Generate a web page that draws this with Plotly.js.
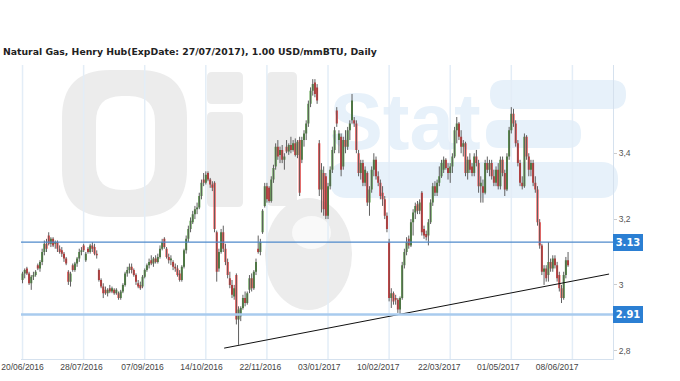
<!DOCTYPE html>
<html><head><meta charset="utf-8">
<script src="https://cdn.plot.ly/plotly-3.0.1.min.js"></script>
<style>html,body{margin:0;padding:0;background:#fff;} #chart{width:680px;height:381px;}</style>
</head><body><div id="chart"></div>
<script>
const titleText = 'Natural Gas, Henry Hub(ExpDate: 27/07/2017), 1.00 USD/mmBTU, Daily';
const startDate = '2016-06-20';
const holidays = ['2016-07-04','2016-09-05','2016-11-24','2016-12-26','2017-01-02','2017-01-16','2017-04-14','2017-05-29'];
const tickLabels = ['20/06/2016','28/07/2016','07/09/2016','14/10/2016','22/11/2016','03/01/2017','10/02/2017','22/03/2017','01/05/2017','08/06/2017'];
const priceTicks = [2.8, 3.0, 3.2, 3.4];
const levels = [3.13, 2.91];
const trendIdx = [92.4, 268.8];
const trendVal = [2.808, 3.033];
const watermarkText = 'Stat';

const openP = [3.015,3.035,3.050,3.035,3.005,3.025,3.030,3.060,3.050,3.070,3.100,3.125,3.150,3.125,3.140,3.125,3.130,3.110,3.105,3.095,
3.080,3.040,3.010,3.060,3.045,3.065,3.080,3.100,3.120,3.075,3.110,3.100,3.120,3.115,3.095,3.045,3.015,2.995,2.985,2.975,
2.990,2.980,2.985,2.975,2.975,2.960,2.980,3.000,3.035,3.045,3.055,3.045,3.030,3.005,3.000,2.995,3.025,3.045,3.060,3.075,
3.065,3.080,3.070,3.085,3.110,3.140,3.110,3.085,3.075,3.070,3.055,3.050,3.035,3.015,3.055,3.105,3.140,3.170,3.190,3.215,
3.230,3.235,3.270,3.320,3.310,3.340,3.320,3.305,3.310,3.160,3.050,3.100,3.160,3.110,3.070,3.020,3.000,2.965,3.030,2.895,
2.905,2.930,2.960,2.945,2.985,3.020,2.990,3.040,3.110,3.100,3.160,3.240,3.300,3.295,3.255,3.320,3.360,3.420,3.395,3.410,
3.380,3.420,3.405,3.425,3.410,3.430,3.395,3.440,3.380,3.440,3.460,3.490,3.550,3.590,3.615,3.600,3.430,3.290,3.340,3.330,
3.210,3.300,3.350,3.410,3.530,3.440,3.450,3.360,3.440,3.420,3.470,3.500,3.500,3.490,3.400,3.340,3.370,3.310,3.340,3.250,
3.290,3.350,3.380,3.330,3.310,3.280,3.260,3.210,3.130,2.960,2.975,2.960,2.955,2.925,2.960,3.060,3.100,3.140,3.120,3.190,
3.220,3.245,3.225,3.280,3.170,3.155,3.150,3.190,3.250,3.300,3.280,3.310,3.330,3.350,3.380,3.355,3.340,3.360,3.390,3.470,
3.490,3.450,3.420,3.430,3.340,3.380,3.360,3.340,3.390,3.370,3.300,3.300,3.280,3.370,3.350,3.370,3.330,3.310,3.350,3.300,
3.380,3.340,3.290,3.390,3.470,3.520,3.490,3.430,3.370,3.310,3.300,3.450,3.390,3.350,3.370,3.310,3.290,3.190,3.120,3.040,
3.050,3.030,3.070,3.050,3.080,3.060,3.030,2.990,2.960,3.030,3.075];
const highP = [3.040,3.050,3.055,3.040,3.030,3.040,3.045,3.065,3.075,3.110,3.135,3.140,3.160,3.145,3.145,3.135,3.135,3.120,3.115,3.100,
3.085,3.045,3.040,3.065,3.070,3.085,3.110,3.115,3.125,3.100,3.115,3.125,3.130,3.125,3.105,3.050,3.020,3.005,2.995,2.990,
3.000,2.995,2.990,2.990,2.980,2.985,3.005,3.040,3.055,3.065,3.065,3.050,3.035,3.015,3.010,3.030,3.050,3.065,3.080,3.090,
3.085,3.090,3.095,3.120,3.140,3.145,3.115,3.095,3.090,3.075,3.065,3.060,3.045,3.060,3.110,3.150,3.180,3.205,3.225,3.240,
3.250,3.280,3.320,3.340,3.345,3.345,3.325,3.315,3.315,3.165,3.110,3.170,3.180,3.125,3.080,3.040,3.015,3.000,3.035,2.935,
2.935,2.970,2.980,2.980,3.030,3.035,3.045,3.080,3.150,3.140,3.230,3.310,3.310,3.300,3.330,3.365,3.430,3.440,3.420,3.425,
3.400,3.440,3.430,3.450,3.440,3.445,3.440,3.450,3.450,3.470,3.500,3.560,3.600,3.625,3.625,3.610,3.440,3.370,3.360,3.340,
3.310,3.360,3.420,3.480,3.540,3.470,3.460,3.450,3.470,3.480,3.500,3.580,3.510,3.500,3.410,3.380,3.380,3.360,3.345,3.300,
3.360,3.400,3.390,3.345,3.320,3.300,3.270,3.220,3.140,2.990,2.980,2.970,2.960,2.965,3.070,3.110,3.145,3.150,3.200,3.230,
3.250,3.255,3.260,3.285,3.180,3.165,3.200,3.260,3.310,3.315,3.320,3.360,3.380,3.390,3.385,3.370,3.370,3.400,3.480,3.510,
3.495,3.470,3.440,3.435,3.390,3.400,3.370,3.400,3.410,3.380,3.330,3.320,3.380,3.390,3.380,3.380,3.350,3.360,3.370,3.390,
3.390,3.350,3.400,3.480,3.540,3.535,3.500,3.440,3.380,3.330,3.460,3.455,3.400,3.380,3.380,3.330,3.300,3.200,3.125,3.060,
3.060,3.130,3.080,3.090,3.090,3.070,3.040,3.000,3.040,3.085,3.100];
const lowP = [3.005,3.020,3.030,3.000,2.985,3.015,3.025,3.045,3.040,3.060,3.090,3.100,3.120,3.115,3.115,3.110,3.100,3.095,3.085,3.070,
3.060,3.000,2.995,3.040,3.040,3.055,3.070,3.090,3.100,3.070,3.095,3.095,3.100,3.090,3.080,3.010,2.990,2.960,2.970,2.965,
2.975,2.975,2.970,2.970,2.955,2.955,2.975,2.995,3.025,3.035,3.035,3.025,3.000,2.990,2.985,2.990,3.020,3.040,3.050,3.060,
3.055,3.065,3.065,3.080,3.105,3.110,3.080,3.065,3.060,3.045,3.040,3.025,3.010,3.010,3.050,3.095,3.130,3.160,3.185,3.200,
3.215,3.230,3.260,3.300,3.305,3.315,3.295,3.285,3.160,3.010,3.040,3.095,3.100,3.060,3.020,2.990,2.960,2.955,2.880,2.818,
2.890,2.925,2.935,2.940,2.975,2.980,2.985,3.030,3.095,3.090,3.155,3.235,3.250,3.250,3.250,3.310,3.350,3.380,3.370,3.370,
3.350,3.400,3.395,3.400,3.405,3.390,3.385,3.270,3.370,3.420,3.440,3.480,3.540,3.575,3.570,3.550,3.270,3.220,3.210,3.200,
3.200,3.290,3.340,3.400,3.480,3.400,3.330,3.350,3.400,3.410,3.440,3.490,3.480,3.400,3.330,3.320,3.300,3.300,3.240,3.210,
3.280,3.330,3.320,3.300,3.260,3.240,3.200,3.160,2.950,2.930,2.940,2.940,2.915,2.910,2.955,3.050,3.090,3.110,3.115,3.150,
3.200,3.215,3.215,3.150,3.140,3.135,3.120,3.185,3.240,3.270,3.270,3.300,3.325,3.340,3.350,3.320,3.310,3.340,3.385,3.430,
3.440,3.400,3.390,3.330,3.320,3.340,3.330,3.330,3.360,3.280,3.250,3.250,3.275,3.340,3.330,3.320,3.300,3.300,3.290,3.290,
3.330,3.270,3.285,3.380,3.460,3.480,3.420,3.360,3.300,3.290,3.295,3.380,3.330,3.330,3.300,3.280,3.180,3.110,3.030,3.000,
3.010,3.010,3.040,3.040,3.050,3.010,2.980,2.945,2.955,3.020,3.055];
const closeP = [3.035,3.045,3.035,3.005,3.025,3.030,3.040,3.050,3.070,3.100,3.125,3.110,3.125,3.140,3.120,3.130,3.110,3.100,3.095,3.080,
3.065,3.010,3.035,3.045,3.065,3.080,3.100,3.105,3.105,3.095,3.100,3.120,3.110,3.095,3.090,3.015,2.995,2.975,2.975,2.985,
2.980,2.990,2.975,2.985,2.960,2.980,3.000,3.035,3.045,3.055,3.045,3.030,3.010,2.995,2.990,3.025,3.045,3.060,3.070,3.065,
3.080,3.070,3.085,3.110,3.130,3.115,3.085,3.075,3.080,3.055,3.050,3.030,3.015,3.055,3.105,3.140,3.170,3.195,3.215,3.230,
3.235,3.270,3.310,3.310,3.335,3.320,3.305,3.295,3.170,3.040,3.100,3.160,3.110,3.070,3.030,3.000,2.970,2.990,2.895,2.925,
2.930,2.960,2.945,2.975,3.020,2.990,3.040,3.070,3.100,3.130,3.225,3.300,3.260,3.255,3.320,3.355,3.420,3.390,3.410,3.380,
3.390,3.405,3.425,3.410,3.430,3.395,3.435,3.280,3.440,3.460,3.490,3.550,3.590,3.610,3.580,3.560,3.290,3.350,3.230,3.210,
3.300,3.350,3.410,3.470,3.490,3.460,3.350,3.440,3.420,3.470,3.490,3.560,3.490,3.410,3.340,3.370,3.310,3.350,3.250,3.290,
3.350,3.380,3.330,3.310,3.270,3.260,3.210,3.170,2.960,2.975,2.950,2.955,2.925,2.960,3.060,3.100,3.130,3.120,3.190,3.220,
3.240,3.225,3.250,3.160,3.150,3.145,3.190,3.250,3.300,3.280,3.310,3.330,3.370,3.380,3.355,3.340,3.360,3.390,3.470,3.490,
3.450,3.420,3.430,3.340,3.380,3.350,3.340,3.390,3.370,3.300,3.310,3.280,3.370,3.350,3.370,3.330,3.310,3.350,3.300,3.380,
3.340,3.290,3.390,3.470,3.520,3.490,3.430,3.370,3.310,3.300,3.450,3.390,3.350,3.370,3.310,3.290,3.190,3.120,3.040,3.050,
3.020,3.070,3.050,3.080,3.060,3.020,2.990,2.960,3.030,3.075,3.060];

// trading-day calendar (weekends and exchange holidays skipped)
const dates = [];
(function(){
  const d = new Date(startDate + 'T00:00:00Z');
  while (dates.length < closeP.length) {
    const wd = d.getUTCDay();
    const iso = d.toISOString().slice(0, 10);
    if (wd !== 0 && wd !== 6 && holidays.indexOf(iso) < 0) {
      dates.push(iso.slice(8, 10) + '/' + iso.slice(5, 7) + '/' + iso.slice(0, 4));
    }
    d.setUTCDate(d.getUTCDate() + 1);
  }
})();
const idx = dates.map((_, i) => i);
const tickVals = tickLabels.map(l => dates.indexOf(l));

const GREEN = '#3b8c27', RED = '#f51c1c', WICK = '#606060';

const traces = [
  { type: 'ohlc', x: idx, open: openP, high: highP, low: lowP, close: closeP, text: dates,
    tickwidth: 0, increasing: { line: { color: WICK, width: 1 } }, decreasing: { line: { color: WICK, width: 1 } },
    hoverinfo: 'skip', showlegend: false },
  { type: 'candlestick', x: idx, open: openP, high: highP, low: lowP, close: closeP, text: dates,
    whiskerwidth: 0,
    increasing: { line: { color: GREEN, width: 0 }, fillcolor: GREEN },
    decreasing: { line: { color: RED, width: 0 }, fillcolor: RED },
    showlegend: false },
  { type: 'scatter', mode: 'lines', x: trendIdx, y: trendVal, line: { color: '#111', width: 1 },
    hoverinfo: 'skip', showlegend: false, cliponaxis: false }
];

// pixel -> paper helpers for decoration (plot area 21..613 x 65..359)
const L = 21, R = 613, T = 65, B = 359;
const px = v => (v - L) / (R - L);
const py = v => (B - v) / (B - T);
const pt = (x, y) => px(x).toFixed(5) + ',' + py(y).toFixed(5);
function rrect(x0, y0, x1, y1, r) {
  return 'M' + pt(x0 + r, y0) + ' L' + pt(x1 - r, y0) + ' Q' + pt(x1, y0) + ' ' + pt(x1, y0 + r) +
    ' L' + pt(x1, y1 - r) + ' Q' + pt(x1, y1) + ' ' + pt(x1 - r, y1) +
    ' L' + pt(x0 + r, y1) + ' Q' + pt(x0, y1) + ' ' + pt(x0, y1 - r) +
    ' L' + pt(x0, y0 + r) + ' Q' + pt(x0, y0) + ' ' + pt(x0 + r, y0) + ' Z';
}

const shapes = [];
const WM_GRAY = '#ececec', WM_BLUE = '#e7f1fa';
function wm(path, color, rule) {
  shapes.push({ type: 'path', xref: 'paper', yref: 'paper', path: path, fillcolor: color, fillrule: rule || 'nonzero',
    line: { width: 0 }, layer: 'below' });
}
// watermark logo (background)
wm(rrect(490, 80, 626, 109, 14), WM_BLUE);
wm(rrect(486, 120, 581, 148, 13), WM_BLUE);
wm(rrect(330, 162, 618, 198, 17), WM_BLUE);
wm(rrect(62, 70, 187, 217, 48) + ' ' + rrect(96, 96, 155, 190, 26), WM_GRAY, 'evenodd');
wm(rrect(207, 72, 243, 104, 5), WM_GRAY);
wm(rrect(207, 112, 243, 207, 5), WM_GRAY);
wm(rrect(267, 72, 297, 206, 5), WM_GRAY);
shapes.push({ type: 'circle', xref: 'paper', yref: 'paper', x0: px(265), x1: px(352), y0: py(310), y1: py(198),
  fillcolor: WM_GRAY, line: { width: 0 }, layer: 'below' });
shapes.push({ type: 'circle', xref: 'paper', yref: 'paper', x0: px(292), x1: px(331), y0: py(249), y1: py(216),
  fillcolor: '#f9f9f9', line: { width: 0 }, layer: 'below' });
shapes.push({ type: 'rect', xref: 'paper', yref: 'paper', x0: px(320), x1: px(490), y0: py(160), y1: py(66),
  fillcolor: 'rgba(0,0,0,0)', line: { width: 0 }, layer: 'below',
  label: { text: watermarkText, textposition: 'middle center', font: { family: 'Liberation Sans', size: 80, color: WM_BLUE, weight: 'bold' } } });

// vertical grid lines every 28 sessions
for (let k = 0; k * 28 < dates.length + 20; k++) {
  shapes.push({ type: 'line', xref: 'x', yref: 'paper', x0: k * 28, x1: k * 28, y0: 0, y1: 1,
    line: { color: '#e3edf7', width: 1.5 }, layer: 'below' });
}
// horizontal levels
const levelStyles = [{ color: '#4f8acb', width: 1.2 }, { color: '#a9cbee', width: 2.5 }];
levels.forEach((v, i) => {
  shapes.push({ type: 'line', xref: 'paper', yref: 'y', x0: 0, x1: 1, y0: v, y1: v, line: levelStyles[i], layer: 'above' });
});

const annotations = levels.map(v => ({
  xref: 'paper', yref: 'y', x: 1, y: v, xanchor: 'left', yanchor: 'middle', showarrow: false,
  text: v.toFixed(2), bgcolor: '#2b7fd3', bordercolor: '#2b7fd3', borderpad: 2, width: 24,
  font: { family: 'DejaVu Sans', size: 10, color: '#ffffff', weight: 'bold' }
}));

const layout = {
  width: 680, height: 381,
  margin: { l: L, r: 680 - R, t: T, b: 381 - B, pad: 0 },
  paper_bgcolor: '#ffffff', plot_bgcolor: 'rgba(0,0,0,0)',
  separators: ',.',
  showlegend: false,
  boxgap: 0.1, boxgroupgap: 0,
  title: { text: titleText, xref: 'container', yref: 'container', x: 3 / 680, xanchor: 'left', y: 1 - 51.5 / 381, yanchor: 'middle',
    font: { family: 'DejaVu Sans', size: 9.3, color: '#222222', weight: 'bold' } },
  xaxis: { type: 'linear', range: [-0.7, 270.6], tickvals: tickVals, ticktext: tickLabels, ticks: '', showgrid: false, zeroline: false,
    showline: true, linecolor: '#d5e1ee', linewidth: 1, tickfont: { family: 'Liberation Sans', size: 8.5, color: '#444' },
    rangeslider: { visible: false }, fixedrange: true },
  yaxis: { side: 'right', range: [2.775, 3.668], tickmode: 'array', tickvals: priceTicks, showgrid: false, zeroline: false,
    showline: true, linecolor: '#d5e1ee', linewidth: 1, ticks: 'outside', ticklen: 3, tickcolor: '#cccccc',
    tickfont: { family: 'Liberation Sans', size: 8.5, color: '#555' }, fixedrange: true },
  shapes: shapes, annotations: annotations
};

Plotly.newPlot('chart', traces, layout, { displayModeBar: false, staticPlot: true });
</script></body></html>
